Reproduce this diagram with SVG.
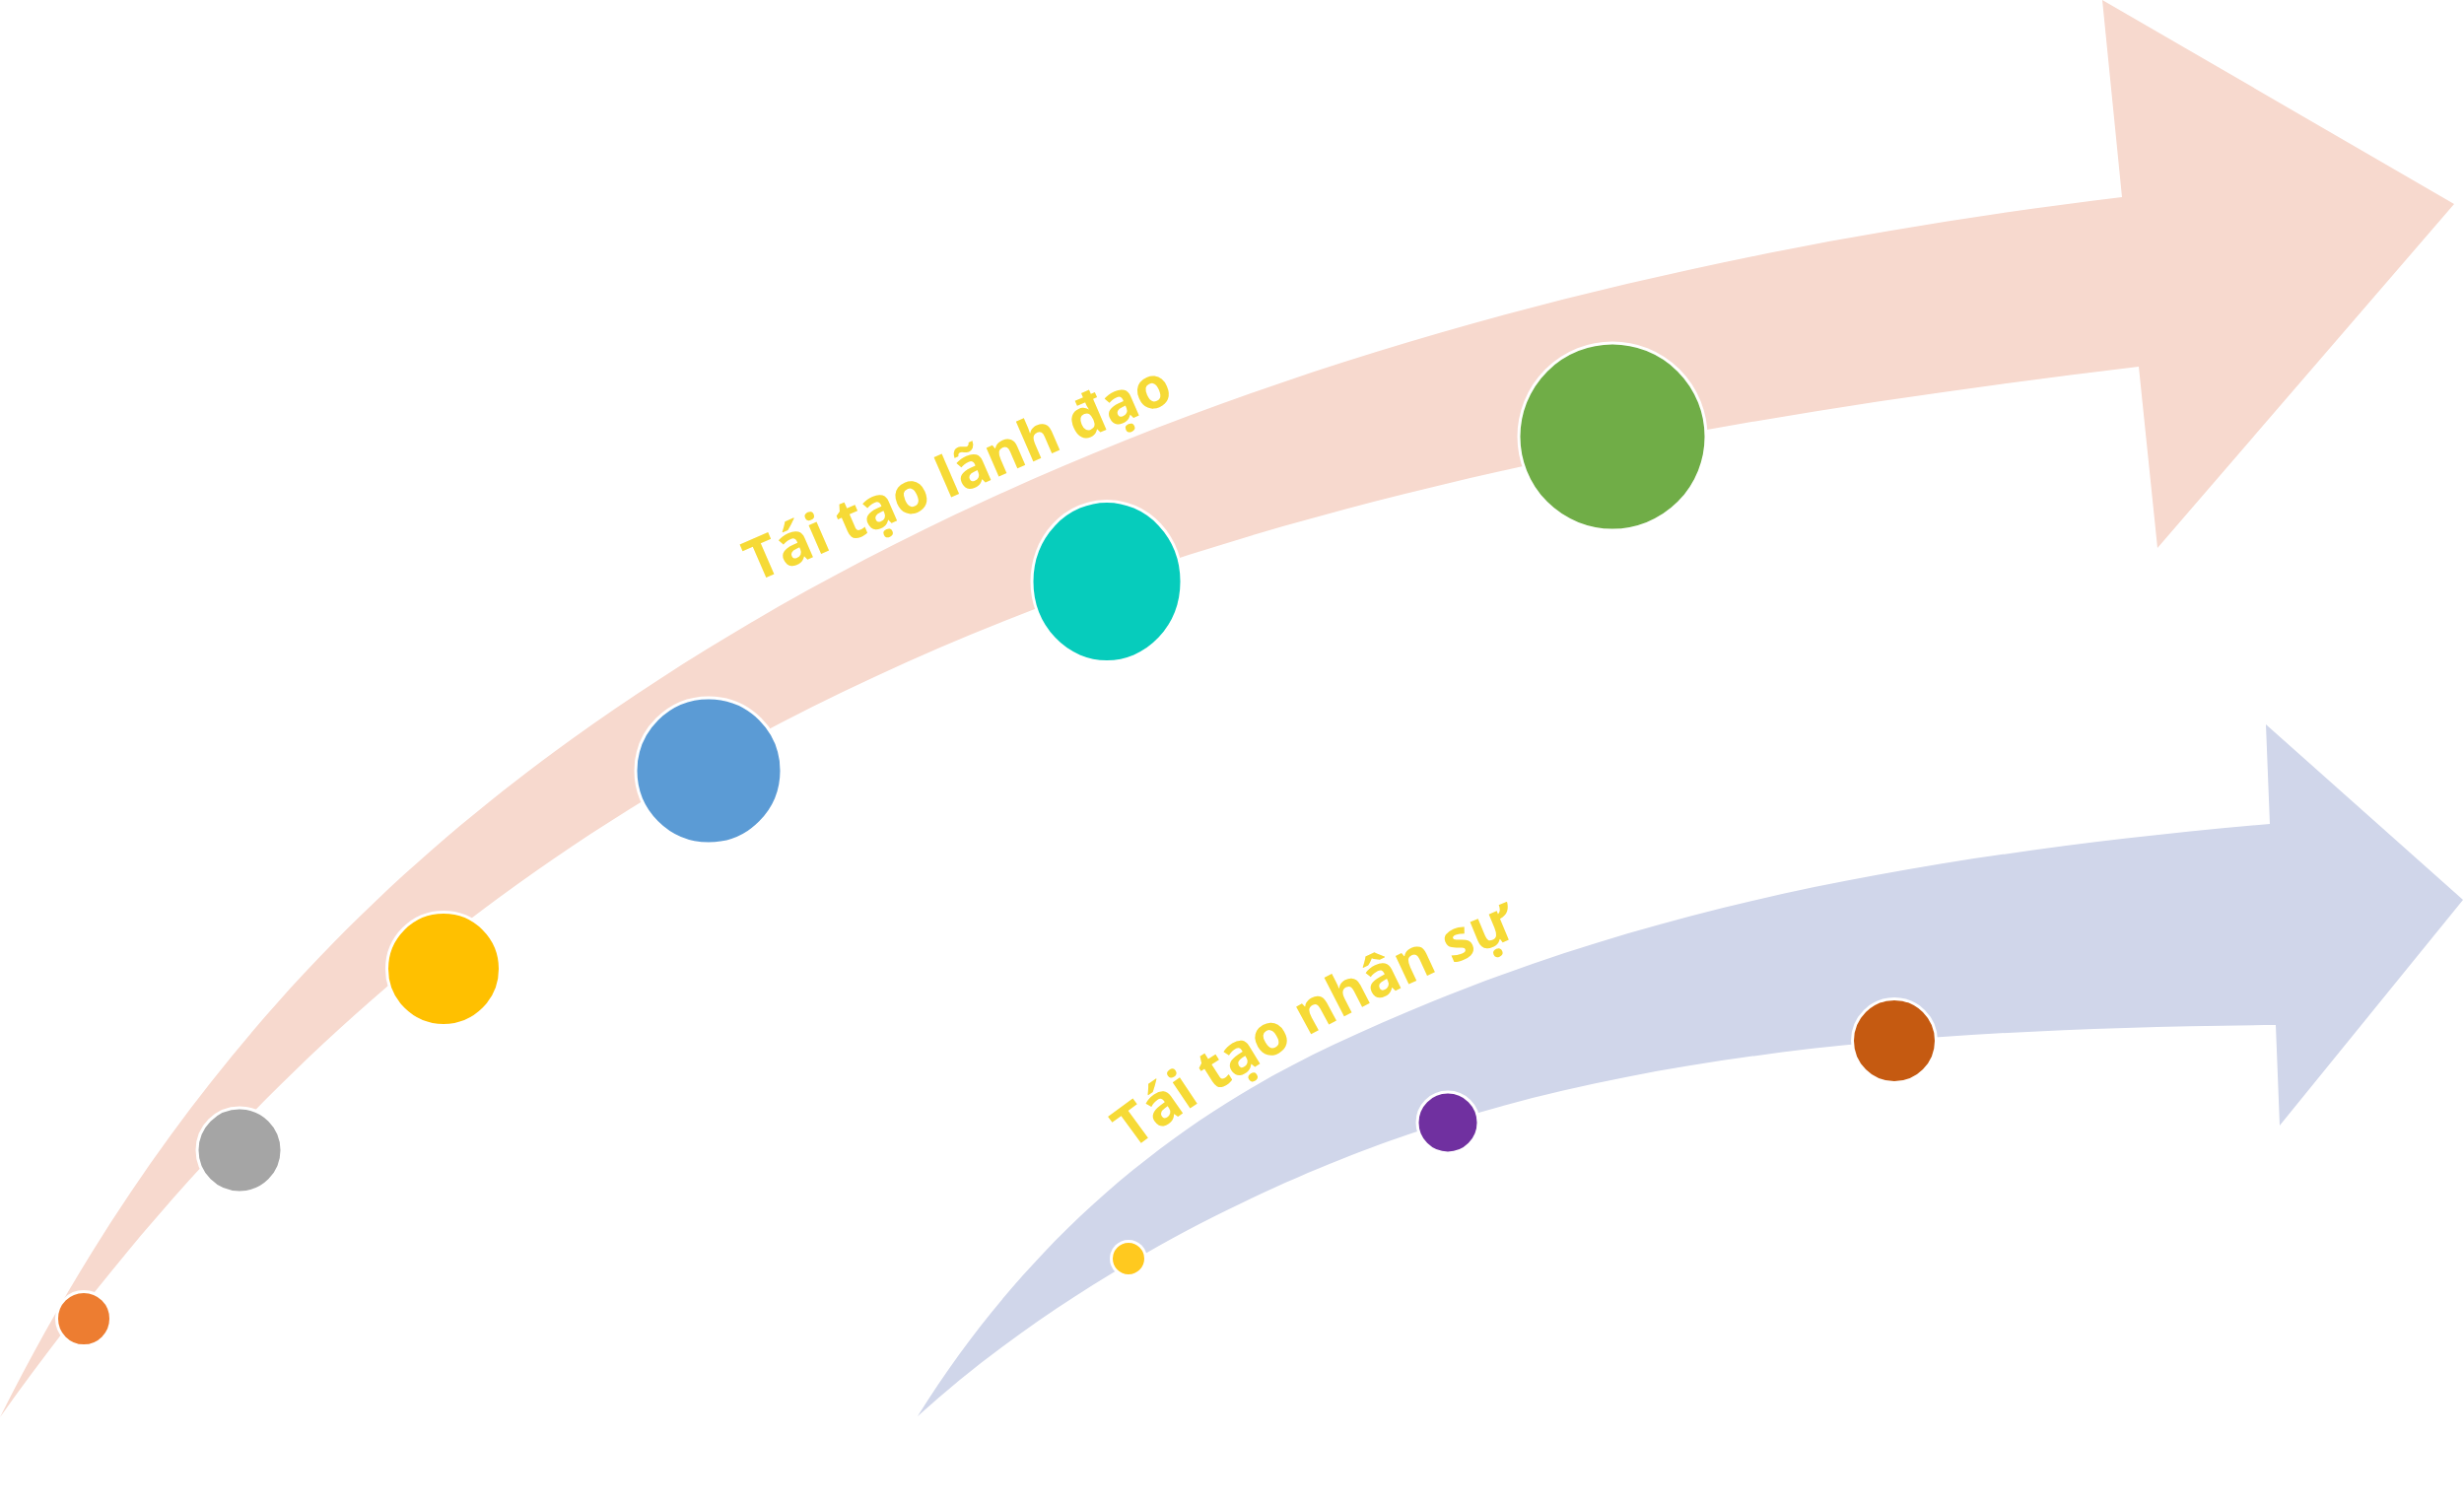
<svg xmlns="http://www.w3.org/2000/svg" width="2500" height="1526" viewBox="0 0 2500 1526">
<style>
.dot{stroke:#FFFFFF;stroke-width:3}
.title{font-family:"Open Sans","Noto Sans","DejaVu Sans",sans-serif;font-weight:700;font-size:58px;fill:#F6DA36}
</style>
<rect x="0" y="0" width="2500" height="1526" fill="#FFFFFF"/>
<g id="connectors">
<path id="arrow-leadership" fill="#F7D9CE" d="M0,1438 C170,1098 380,894 580,750 C1000,448 1553,272 2153,200 L2133,0 L2490,207 L2189,556 L2170,372 C1570,444 1030,557 580,859 C380,993 190,1172 0,1438 Z"/>
<path id="arrow-hr" fill="#D0D6EA" d="M931,1437 C1051,1245 1203,1130.5 1353,1060 C1653,919 1953,867.5 2303,836 L2299,735 L2499,913 L2313,1142 L2309,1040 C1959,1043.5 1688,1065.5 1438,1148 C1308,1191 1101,1284 931,1437 Z"/>
</g>
<defs>
<path id="hrBase" d="M1148,1167 Q1320,1037.6 1550,946"/>
</defs>
<g id="label-leadership">
<text class="title" transform="translate(766,591) rotate(-23.5)">Tái tạo lãnh đạo</text>
</g>
<g id="label-hr">
<text class="title"><textPath href="#hrBase">Tái tạo nhân sự</textPath></text>
</g>
<g id="node-l1"><circle class="dot" cx="85" cy="1338" r="27.5" fill="#ED7D31"/></g>
<g id="node-l2"><circle class="dot" cx="243" cy="1167" r="43" fill="#A5A5A5"/></g>
<g id="node-l3"><circle class="dot" cx="450" cy="983" r="57.5" fill="#FFC000"/></g>
<g id="node-l4"><circle class="dot" cx="719" cy="782" r="74" fill="#5B9BD5"/></g>
<g id="node-l5"><ellipse class="dot" cx="1123" cy="590" rx="76" ry="81.5" fill="#06CCBC"/></g>
<g id="node-l6"><circle class="dot" cx="1636" cy="443" r="95" fill="#70AD47"/></g>
<g id="node-h1"><circle class="dot" cx="1145" cy="1277" r="17.5" fill="#FFC91F"/></g>
<g id="node-h2"><circle class="dot" cx="1469" cy="1139" r="31" fill="#7030A0"/></g>
<g id="node-h3"><circle class="dot" cx="1922" cy="1056" r="42.5" fill="#C55A11"/></g>
</svg>
